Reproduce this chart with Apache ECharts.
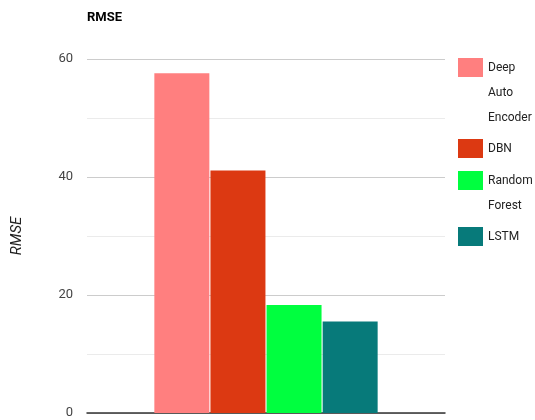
<!DOCTYPE html>
<html>
<head>
<meta charset="utf-8">
<script src="https://cdn.jsdelivr.net/npm/echarts@6/dist/echarts.min.js"></script>
<style>
  html, body { margin: 0; padding: 0; background: #fff; }
  #chart { width: 535px; height: 420px; }
</style>
</head>
<body>
<div id="chart"></div>
<script>
// RMSE per model
const categories = ['RMSE'];
const models = ['Deep Auto Encoder', 'DBN', 'Random Forest', 'LSTM'];
const legendLabels = ['Deep\nAuto\nEncoder', 'DBN', 'Random\nForest', 'LSTM'];
const rmseValues = [57.6, 41.1, 18.3, 15.5];
const colors = ['#FF7F7F', '#DC3912', '#00FF3F', '#077A7A'];
const yTicks = [0, 20, 40, 60];

const FONT = 'Roboto, "Liberation Sans", sans-serif';
const LINE_H = 25;
const ICON_H = 19;

const chart = echarts.init(document.getElementById('chart'), null, { renderer: 'canvas' });

// legend icon tops (px) for each entry
const legendTops = [58, 139, 171, 227];

// One legend per entry so wrapped labels start level with their swatch:
// leading blank lines push the first line down to the swatch centre.
const legends = models.map((name, i) => {
  const lines = legendLabels[i].split('\n').length;
  const label = '\n'.repeat(lines - 1) + legendLabels[i];
  const blockH = (2 * lines - 1) * LINE_H;
  return {
    data: [name],
    orient: 'vertical',
    left: 458,
    top: legendTops[i] + ICON_H / 2 - blockH / 2,
    padding: 0,
    itemWidth: 25,
    itemHeight: ICON_H,
    itemGap: 6,
    icon: 'rect',
    formatter: () => label,
    textStyle: {
      fontFamily: FONT,
      fontSize: 12,
      color: '#222',
      lineHeight: LINE_H
    }
  };
});

const option = {
  backgroundColor: '#fff',
  animation: false,
  title: {
    text: 'RMSE',
    left: 87,
    top: 11,
    padding: 0,
    textStyle: { fontFamily: FONT, fontSize: 13, fontWeight: 'bold', color: '#000' }
  },
  legend: legends,
  grid: { left: 87, right: 90, top: 59, bottom: 7, containLabel: false },
  xAxis: {
    type: 'category',
    data: categories,
    axisLine: { show: true, lineStyle: { color: '#333', width: 1.5 } },
    axisTick: { show: false },
    axisLabel: { show: false },
    splitLine: { show: false }
  },
  yAxis: {
    type: 'value',
    min: yTicks[0],
    max: yTicks[yTicks.length - 1],
    interval: 20,
    name: 'RMSE',
    nameLocation: 'middle',
    nameGap: 62,
    nameTextStyle: { fontFamily: FONT, fontSize: 15, fontStyle: 'italic', color: '#222' },
    axisLine: { show: false },
    axisTick: { show: false },
    axisLabel: { fontFamily: FONT, fontSize: 13, color: '#444', margin: 14 },
    splitLine: { show: true, lineStyle: { color: '#cccccc', width: 1 } },
    minorTick: { show: false, splitNumber: 2 },
    minorSplitLine: { show: true, lineStyle: { color: '#ebebeb', width: 1 } }
  },
  series: models.map((name, i) => ({
    name: name,
    type: 'bar',
    data: [rmseValues[i]],
    barWidth: 55,
    barGap: '2%',
    itemStyle: { color: colors[i] },
    emphasis: { disabled: true }
  }))
};

chart.setOption(option);
</script>
</body>
</html>
